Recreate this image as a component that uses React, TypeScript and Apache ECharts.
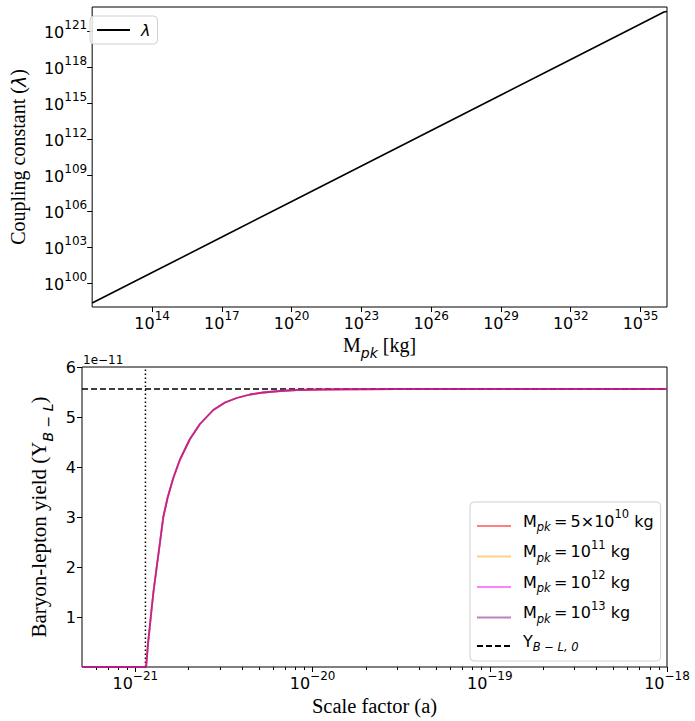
import React, { useEffect, useRef } from "react";
import * as echarts from "echarts";

// ---------- Top panel: coupling constant vs PBH mass ----------
const massKg = [2.63e11, 1e14, 1e17, 1e20, 1e23, 1e26, 1e29, 1e32, 1e35, 1.02e36, 1.38e36];
const couplingLambda = [2.14e98, 7.41e100, 6.76e103, 6.17e106, 5.62e109, 5.13e112, 4.68e115, 4.27e118, 3.89e121, 3.8e122, 4.17e122];
const massRange = [2.63e11, 1.38e36];
const couplingRange = [1e98, 1e123];
const massTickExp = [14, 17, 20, 23, 26, 29, 32, 35];
const couplingTickExp = [100, 103, 106, 109, 112, 115, 118, 121];

// ---------- Bottom panel: B-L yield vs scale factor ----------
const scaleFactor = [5e-22, 1.15e-21, 1.178e-21, 1.222e-21, 1.265e-21, 1.32e-21, 1.378e-21, 1.438e-21, 1.519e-21, 1.637e-21, 1.786e-21, 2.033e-21, 2.315e-21, 2.753e-21, 3.206e-21, 3.733e-21, 4.436e-21, 5.272e-21, 6.547e-21, 8.14e-21, 1.102e-20, 1.56e-20, 3.12e-20, 1e-18];
const yieldBL = [0, 0, 0.45e-11, 1.0e-11, 1.5e-11, 2.0e-11, 2.5e-11, 3.0e-11, 3.38e-11, 3.78e-11, 4.15e-11, 4.56e-11, 4.86e-11, 5.14e-11, 5.29e-11, 5.38e-11, 5.45e-11, 5.49e-11, 5.52e-11, 5.54e-11, 5.55e-11, 5.555e-11, 5.56e-11, 5.56e-11];
const yieldBL0 = 5.56e-11;
const onsetScaleFactor = 1.14e-21;
const scaleRange = [5e-22, 1e-18];
const yieldRange = [0, 6e-11];
const scaleTickExp = [-21, -20, -19, -18];
const yieldTicks = [1e-11, 2e-11, 3e-11, 4e-11, 5e-11, 6e-11];
const massCurves = [
  { key: "m1", mantissa: "5×10", exp: "10", color: "rgba(255,0,0,0.5)" },
  { key: "m2", mantissa: "10", exp: "11", color: "rgba(255,165,0,0.5)" },
  { key: "m3", mantissa: "10", exp: "12", color: "rgba(255,0,255,0.5)" },
  { key: "m4", mantissa: "10", exp: "13", color: "rgba(128,0,128,0.5)" },
];

const lg = (v: number) => Math.log10(v);
const SANS = "DejaVu Sans";
const SERIF = "Liberation Serif";

const tickRich = {
  base: { fontFamily: SANS, fontSize: 16, lineHeight: 18, verticalAlign: "bottom", color: "#000" },
  pow: { fontFamily: SANS, fontSize: 12, lineHeight: 13, padding: [0, 0, 9, 0], verticalAlign: "bottom", color: "#000" },
};

const nameRich = (size: number) => ({
  r: { fontFamily: SERIF, fontSize: size, lineHeight: size + 1, padding: [0, 0, 5, 0], verticalAlign: "bottom", color: "#000" },
  l: { fontFamily: SANS, fontStyle: "italic", fontSize: size - 1, lineHeight: size + 1, padding: [0, 0, 5, 0], verticalAlign: "bottom", color: "#000" },
  sub: { fontFamily: SANS, fontStyle: "italic", fontSize: 14, lineHeight: 16, verticalAlign: "bottom", color: "#000" },
});

const legendRich = {
  f: { fontFamily: SANS, fontSize: 16, lineHeight: 18, padding: [3, 0, 6, 7], verticalAlign: "bottom", color: "#000" },
  t: { fontFamily: SANS, fontSize: 16, lineHeight: 18, padding: [3, 0, 6, 0], verticalAlign: "bottom", color: "#000" },
  sub: { fontFamily: SANS, fontStyle: "italic", fontSize: 11.5, lineHeight: 12, padding: [0, 0, 2, 0], verticalAlign: "bottom", color: "#000" },
  sup: { fontFamily: SANS, fontSize: 11.5, lineHeight: 12, padding: [0, 0, 15, 0], verticalAlign: "bottom", color: "#000" },
};

const minorScaleTicks: number[] = [];
for (let n = -22; n <= -19; n++) {
  for (let k = 2; k <= 9; k++) {
    const v = lg(k * Math.pow(10, n));
    if (v > lg(scaleRange[0]) + 1e-6 && v < lg(scaleRange[1])) minorScaleTicks.push(v);
  }
}

export default function App() {
  const ref = useRef<HTMLDivElement>(null);
  useEffect(() => {
    if (!ref.current) return;
    const chart = echarts.init(ref.current, null, { renderer: "svg" });

    const legendFormatter = (name: string) => {
      const c = massCurves.find((m) => m.key === name);
      if (c) return `{f|M}{sub|pk}{t|\u2009=\u2009${c.mantissa}}{sup|${c.exp}}{t| kg}`;
      if (name === "y0") return `{f|Y}{sub|B − L, 0}`;
      return name;
    };

    const curveSeries = massCurves.map((c) => ({
      name: c.key,
      type: "line",
      xAxisIndex: 1,
      yAxisIndex: 1,
      symbol: "none",
      lineStyle: { color: c.color, width: 1.8 },
      itemStyle: { color: c.color },
      data: scaleFactor.map((a, i) => [lg(a), yieldBL[i]]),
    }));

    const tickLabelBase = { fontFamily: SANS, fontSize: 16, color: "#000" };
    const legendBox = {
      orient: "vertical",
      borderColor: "#d0d0d0", borderWidth: 1, borderRadius: 4, backgroundColor: "rgba(255,255,255,0.8)",
      itemStyle: { opacity: 0, borderWidth: 0 },
    };

    chart.setOption({
      animation: false,
      backgroundColor: "#fff",
      grid: [
        { left: 82, top: 7, width: 585, height: 300, show: true, borderColor: "#000", borderWidth: 1 },
        { left: 82, top: 367, width: 585, height: 300, show: true, borderColor: "#000", borderWidth: 1 },
      ],
      xAxis: [
        {
          gridIndex: 0, type: "value", min: lg(massRange[0]), max: lg(massRange[1]),
          axisLine: { show: false }, splitLine: { show: false },
          axisTick: { customValues: massTickExp, length: 5, lineStyle: { color: "#000" } },
          axisLabel: { ...tickLabelBase, customValues: massTickExp, margin: 6, formatter: (v: number) => `{base|10}{pow|${Math.round(v)}}`, rich: tickRich },
          name: "{r|M}{sub|pk}{r| [kg]}", nameLocation: "middle", nameGap: 32,
          nameTextStyle: { rich: nameRich(20) },
        },
        {
          gridIndex: 1, type: "value", position: "bottom", min: lg(scaleRange[0]), max: lg(scaleRange[1]),
          axisLine: { show: false }, splitLine: { show: false },
          axisTick: { customValues: scaleTickExp, length: 5, lineStyle: { color: "#000" } },
          axisLabel: { ...tickLabelBase, customValues: scaleTickExp, margin: 6, formatter: (v: number) => `{base|10}{pow|−${Math.abs(Math.round(v))}}`, rich: tickRich },
          name: "Scale factor (a)", nameLocation: "middle", nameGap: 28,
          nameTextStyle: { fontFamily: SERIF, fontSize: 20.5, color: "#000" },
        },
        {
          gridIndex: 1, type: "value", position: "bottom", min: lg(scaleRange[0]), max: lg(scaleRange[1]),
          axisLine: { show: false }, splitLine: { show: false },
          axisTick: { customValues: minorScaleTicks, length: 3, lineStyle: { color: "#000" } },
          axisLabel: { show: false },
        },
      ],
      yAxis: [
        {
          gridIndex: 0, type: "value", min: lg(couplingRange[0]), max: lg(couplingRange[1]),
          axisLine: { show: false }, splitLine: { show: false },
          axisTick: { customValues: couplingTickExp, length: 5, lineStyle: { color: "#000" } },
          axisLabel: { ...tickLabelBase, customValues: couplingTickExp, margin: 5, formatter: (v: number) => `{base|10}{pow|${Math.round(v)}}`, rich: tickRich },
          name: "{r|Coupling constant (}{l|λ}{r|)}", nameLocation: "middle", nameGap: 53,
          nameTextStyle: { rich: nameRich(20) },
        },
        {
          gridIndex: 1, type: "value", min: yieldRange[0], max: yieldRange[1],
          axisLine: { show: false }, splitLine: { show: false },
          axisTick: { customValues: yieldTicks, length: 5, lineStyle: { color: "#000" } },
          axisLabel: { ...tickLabelBase, customValues: yieldTicks, margin: 6, formatter: (v: number) => String(Math.round(v / 1e-11)) },
          name: "{r|Baryon-lepton yield (Y}{sub|B − L}{r|)}", nameLocation: "middle", nameGap: 20,
          nameTextStyle: { rich: nameRich(21) },
        },
      ],
      legend: [
        {
          ...legendBox,
          data: ["λ"], left: 90, top: 16,
          itemWidth: 33, itemHeight: 14,
          padding: [6, 7, 6, 6],
          formatter: () => "{l|λ}",
          textStyle: { rich: { l: { fontFamily: SANS, fontStyle: "italic", fontSize: 16, lineHeight: 18, padding: [0, 0, 0, 6], color: "#000" } } },
        },
        {
          ...legendBox,
          data: ["m1", "m2", "m3", "m4", "y0"], left: 470, top: 502,
          itemWidth: 34, itemHeight: 14, itemGap: 3.5,
          padding: [6, 7, 6, 6],
          formatter: legendFormatter,
          textStyle: { rich: legendRich },
        },
      ],
      graphic: [
        { type: "text", left: 83, top: 354, style: { text: "1e−11", fontFamily: SANS, fontSize: 12, fill: "#000" } },
      ],
      series: [
        {
          name: "λ", type: "line", xAxisIndex: 0, yAxisIndex: 0, symbol: "none",
          lineStyle: { color: "#000", width: 1.6 }, itemStyle: { color: "#000" },
          data: massKg.map((m, i) => [lg(m), lg(couplingLambda[i])]),
        },
        ...curveSeries,
        {
          name: "y0", type: "line", xAxisIndex: 1, yAxisIndex: 1, symbol: "none", z: 1,
          lineStyle: { color: "#000", width: 1.5, type: [6, 3] }, itemStyle: { color: "#000" },
          data: [[lg(scaleRange[0]), yieldBL0], [lg(scaleRange[1]), yieldBL0]],
        },
        {
          name: "onset", type: "line", xAxisIndex: 1, yAxisIndex: 1, symbol: "none", z: 1,
          lineStyle: { color: "#000", width: 1.5, type: [1.5, 2.5] },
          data: [[lg(onsetScaleFactor), yieldRange[0]], [lg(onsetScaleFactor), yieldRange[1]]],
        },
      ],
    });
    return () => chart.dispose();
  }, []);
  return <div ref={ref} style={{ position: "absolute", left: 0, top: 0, width: 695, height: 721 }} />;
}
